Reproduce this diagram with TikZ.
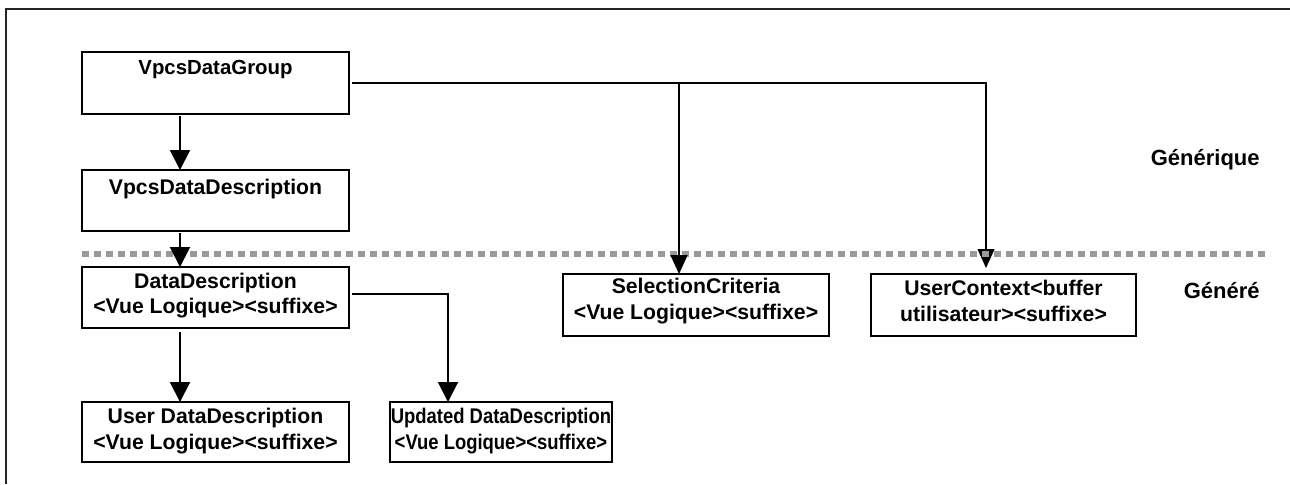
\documentclass[tikz,border=0pt]{standalone}
\usepackage{fontspec}
\setmainfont{Liberation Sans}
\newfontfamily\condfont[FakeStretch=0.87]{Liberation Sans}
\usetikzlibrary{arrows.meta}
\definecolor{sepgray}{RGB}{153,153,153}
\begin{document}
\begin{tikzpicture}[x=0.5pt,y=-0.5pt,
  box/.style={draw=black,line width=1pt,fill=white,inner sep=0,outer sep=0},
  lbl/.style={font=\bfseries\fontsize{10.6}{12.8}\selectfont,align=center,inner sep=0},
  bigarrow/.style={line width=1pt,-{Triangle[length=10pt,width=10pt]}},
  smallarrow/.style={line width=0.65pt,-{Triangle[length=9.5pt,width=8.5pt]}},
  sepline/.style={draw=sepgray,line width=3pt,dash pattern=on 3.5pt off 2.5pt}]
\useasboundingbox (0,0) rectangle (1290,484);
% frame
\draw[line width=0.75pt,black!85] (1290,9) -- (6,9) -- (6,484);
% boxes
\node[box,minimum width=133.5pt,minimum height=31pt] (g1) at (215.5,83) {};
\node[lbl,anchor=base,font=\bfseries\fontsize{10.2}{12}\selectfont] (g1t) at (215.5,74.5) {VpcsDataGroup};
\node[box,minimum width=133.5pt,minimum height=30.5pt] (g2) at (215.5,200.5) {};
\node[lbl,anchor=base] (g2t) at (215.5,194.5) {VpcsDataDescription};
\node[box,minimum width=133.5pt,minimum height=30.5pt] (dd) at (215.5,297.5) {};
\node[lbl] (ddt) at (215.5,295.5) {DataDescription\\<Vue Logique><suffixe>};
\node[box,minimum width=133pt,minimum height=31pt] (sc) at (696,305) {};
\node[lbl] (sct) at (696,301) {SelectionCriteria\\<Vue Logique><suffixe>};
\node[box,minimum width=132.5pt,minimum height=31pt] (uc) at (1003.5,305) {};
\node[lbl] (uct) at (1003.5,301) {UserContext<buffer\\utilisateur><suffixe>};
\node[box,minimum width=133.5pt,minimum height=30pt] (udd) at (215.5,432) {};
\node[lbl] (uddt) at (215.5,431) {User DataDescription\\<Vue Logique><suffixe>};
\node[box,minimum width=111pt,minimum height=30pt] (upd) at (501,432) {};
\node[lbl,font=\condfont\bfseries\fontsize{10.6}{12.8}\selectfont] (updt) at (501,431) {Updated DataDescription\\<Vue Logique><suffixe>};
% side labels
\node[lbl,anchor=east,font=\bfseries\fontsize{11}{13}\selectfont] (gen) at (1260,160) {Générique};
\node[lbl,anchor=east,font=\bfseries\fontsize{11}{13}\selectfont] (gnr) at (1260,291) {Généré};
% helper coordinates
\coordinate (ax) at (180,0);
\coordinate (bx) at (448,0);
\coordinate (sx) at (679,0);
\coordinate (ux) at (986,0);
\coordinate (dy) at (0,294);
% connector to UserContext (below the separator)
\draw[smallarrow,shorten >=3pt] ([xshift=1.5pt]g1.east) -- (ux |- g1.east) -- (ux |- uc.north);
% separator
\coordinate (sepL) at (82,254);
\coordinate (sepR) at (1270,254);
\draw[sepline] (sepL) -- (sepR);
% other connectors
\draw[smallarrow] (sx |- g1.east) -- (sx |- sc.north);
\draw[bigarrow] ([yshift=-1pt]ax |- g1.south) -- (ax |- g2.north);
\draw[bigarrow] ([yshift=-1pt]ax |- g2.south) -- (ax |- dd.north);
\draw[bigarrow] ([yshift=-2pt]ax |- dd.south) -- (ax |- udd.north);
\draw[bigarrow] ([xshift=1.5pt]dd.east |- dy) -- (bx |- dy) -- (bx |- upd.north);
\end{tikzpicture}
\end{document}
